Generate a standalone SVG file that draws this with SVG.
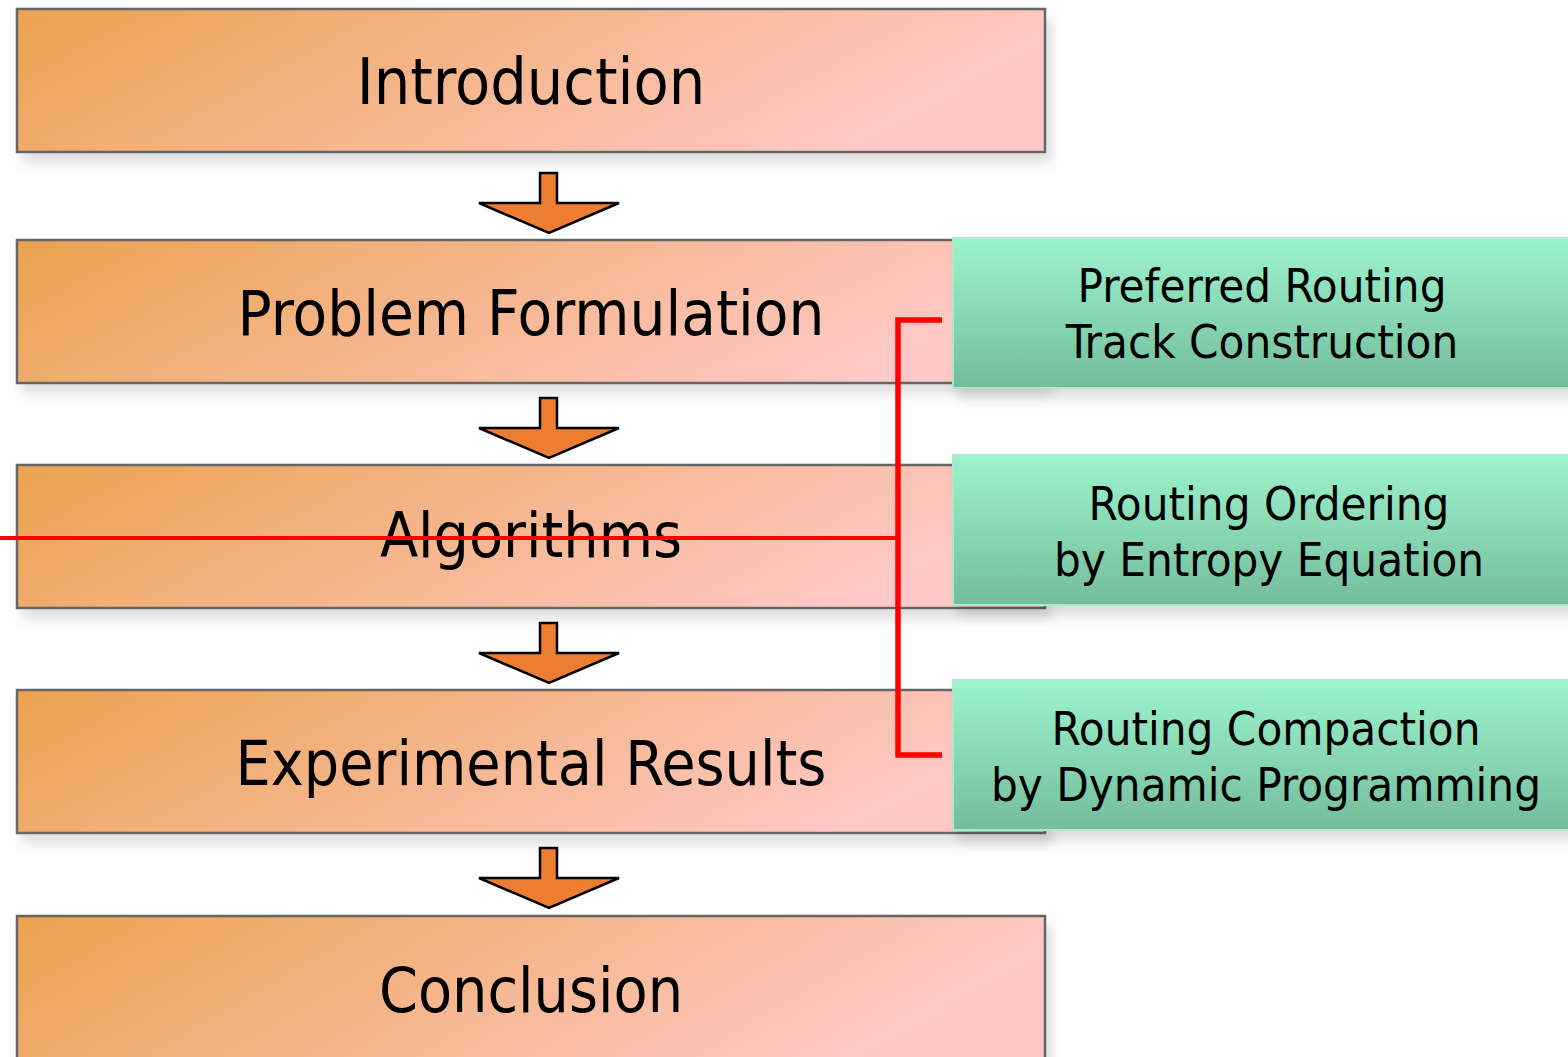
<svg xmlns="http://www.w3.org/2000/svg" width="1568" height="1057" viewBox="0 0 1568 1057">
<defs>
<linearGradient id="og" x1="0" y1="0" x2="1" y2="0.25">
<stop offset="0" stop-color="#EBA24F"/>
<stop offset="1" stop-color="#FFC9C7"/>
</linearGradient>
<linearGradient id="gg" x1="0" y1="0" x2="0" y2="1">
<stop offset="0" stop-color="#9CF4CC"/>
<stop offset="1" stop-color="#74BC9B"/>
</linearGradient>
<filter id="sh" x="-5%" y="-10%" width="115%" height="140%">
<feDropShadow dx="6" dy="10" stdDeviation="6" flood-color="#000" flood-opacity="0.12"/>
</filter>
<path id="arr" d="M-9,0 H8 V30 H70 L0,60 L-70,30 H-9 Z"/>
</defs>
<style>
.ob{fill:url(#og);stroke:#666;stroke-width:2.5;filter:url(#sh)}
.gb{fill:url(#gg);stroke:#A8EBC8;stroke-width:2;filter:url(#sh)}
.ot{font-family:"DejaVu Sans Condensed","DejaVu Sans",sans-serif;font-size:62px;fill:#000;text-anchor:middle}
.gt{font-family:"DejaVu Sans Condensed","DejaVu Sans",sans-serif;font-size:47px;fill:#000;text-anchor:middle}
.ar{fill:#ED7D31;stroke:#000;stroke-width:2.5}
.rl{fill:none;stroke:#FF0000;stroke-width:5.5}
</style>
<g id="introduction"><rect class="ob" x="17" y="9" width="1028" height="143"/><text class="ot" x="531" y="104" style="font-size:64px">Introduction</text></g>
<g id="problem-formulation"><rect class="ob" x="17" y="240" width="1028" height="143"/><text class="ot" x="531" y="335" style="font-size:63px">Problem Formulation</text></g>
<g id="algorithms"><rect class="ob" x="17" y="465" width="1028" height="143"/><text class="ot" x="531" y="557">Algorithms</text></g>
<g id="experimental-results"><rect class="ob" x="17" y="690" width="1028" height="143"/><text class="ot" x="531" y="785">Experimental Results</text></g>
<g id="conclusion"><rect class="ob" x="17" y="916" width="1028" height="150"/><text class="ot" x="531" y="1012">Conclusion</text></g>
<g id="arrows">
<use href="#arr" class="ar" x="549" y="173"/>
<use href="#arr" class="ar" x="549" y="398"/>
<use href="#arr" class="ar" x="549" y="623"/>
<use href="#arr" class="ar" x="549" y="848"/>
</g>
<g id="preferred-routing"><rect class="gb" x="953" y="238" width="625" height="150"/><text class="gt" x="1262" y="302">Preferred Routing</text><text class="gt" x="1262" y="358">Track Construction</text></g>
<g id="routing-ordering"><rect class="gb" x="953" y="455" width="625" height="150"/><text class="gt" x="1269" y="520">Routing Ordering</text><text class="gt" x="1269" y="576">by Entropy Equation</text></g>
<g id="routing-compaction"><rect class="gb" x="953" y="680" width="625" height="150"/><text class="gt" x="1266" y="745">Routing Compaction</text><text class="gt" x="1266" y="801">by Dynamic Programming</text></g>
<g id="connectors">
<path class="rl" d="M942,320 H898 V755 H942"/>
<path class="rl" d="M0,538 H898" style="stroke-width:4"/>
</g>
</svg>
